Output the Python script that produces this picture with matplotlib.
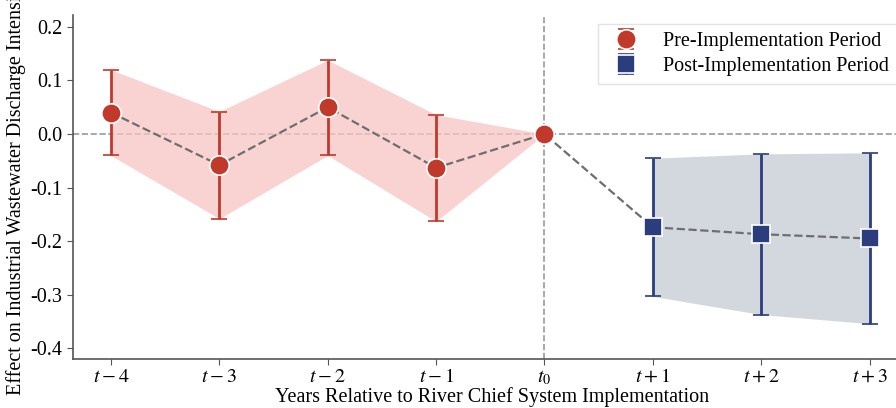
import numpy as np
import matplotlib
matplotlib.use("Agg")
import matplotlib.pyplot as plt

# event-study data
pre_x = [-4, -3, -2, -1]
pre_coef = [0.040, -0.058, 0.050, -0.063]
pre_low = [-0.040, -0.158, -0.040, -0.163]
pre_high = [0.120, 0.042, 0.138, 0.036]

base_x = [0]
base_coef = [0.0]

post_x = [1, 2, 3]
post_coef = [-0.174, -0.187, -0.195]
post_low = [-0.303, -0.337, -0.354]
post_high = [-0.045, -0.037, -0.035]

tick_pos = [-4, -3, -2, -1, 0, 1, 2, 3]
tick_labels = ['$t-4$', '$t-3$', '$t-2$', '$t-1$', '$t_0$', '$t+1$', '$t+2$', '$t+3$']

plt.rcParams['font.family'] = ['Liberation Serif', 'DejaVu Serif']
plt.rcParams['mathtext.fontset'] = 'stix'

red = '#c0392b'
blue = '#2b3d7c'
fs = 14.5

fig = plt.figure(figsize=(8.96, 4.08), dpi=100)
# the original axes runs a little past the right edge of the picture
ax = fig.add_axes([0.0815, 0.12, 0.935, 0.843])

# shaded intervals
ax.fill_between(pre_x + base_x, pre_low + base_coef, pre_high + base_coef,
                color='#f7c5c3', alpha=0.75, lw=0, zorder=1)
ax.fill_between(post_x, post_low, post_high, color='#cbd2d8', alpha=0.85,
                lw=0, zorder=1)

# reference lines
ax.axhline(0, color='#999999', ls='--', lw=1.2, zorder=0)
ax.axvline(0, color='#999999', ls='--', lw=1.2, zorder=0)

# connecting dashed line
all_x = pre_x + base_x + post_x
all_y = pre_coef + base_coef + post_coef
ax.plot(all_x, all_y, color='#6e6e6e', ls='--', lw=1.6, zorder=2)

pre_err = [np.array(pre_coef) - np.array(pre_low), np.array(pre_high) - np.array(pre_coef)]
post_err = [np.array(post_coef) - np.array(post_low), np.array(post_high) - np.array(post_coef)]

ax.errorbar(pre_x, pre_coef, yerr=pre_err, fmt='o', color=red, ms=14,
            mec='white', mew=1.2, elinewidth=2, capsize=6, capthick=2,
            zorder=3, label='Pre-Implementation Period')
ax.plot(base_x, base_coef, 'o', color=red, ms=14, mec='white', mew=1.2, zorder=3)
ax.errorbar(post_x, post_coef, yerr=post_err, fmt='s', color=blue, ms=13,
            mec='white', mew=1.2, elinewidth=2, capsize=6, capthick=2,
            zorder=3, label='Post-Implementation Period')

ax.set_xlim(-4.35, 3.38)
ax.set_ylim(-0.42, 0.222)
ax.set_xticks(tick_pos)
ax.set_xticklabels(tick_labels)
ax.set_yticks([-0.4, -0.3, -0.2, -0.1, 0.0, 0.1, 0.2])
ax.set_yticklabels(['-0.4', '-0.3', '-0.2', '-0.1', '0.0', '0.1', '0.2'])
ax.tick_params(labelsize=fs, color='#555555', length=4)
ax.tick_params(axis='x', pad=2.5)

for s in ['top', 'right']:
    ax.spines[s].set_visible(False)
for s in ['left', 'bottom']:
    ax.spines[s].set_color('#555555')
    ax.spines[s].set_linewidth(1.2)

ax.set_xlabel('Years Relative to River Chief System Implementation', fontsize=fs, labelpad=0)
# the reference crops this label at the top edge of the figure
ax.set_ylabel('Effect on Industrial Wastewater Discharge Intensity', fontsize=fs, labelpad=3)

leg = ax.legend(loc='upper right', bbox_to_anchor=(0.983, 0.975), fontsize=fs,
                frameon=True, fancybox=False, edgecolor='#dddddd',
                handletextpad=0.8, borderpad=0.4, labelspacing=0.3,
                borderaxespad=0)

fig.savefig('out.png', dpi=100)
